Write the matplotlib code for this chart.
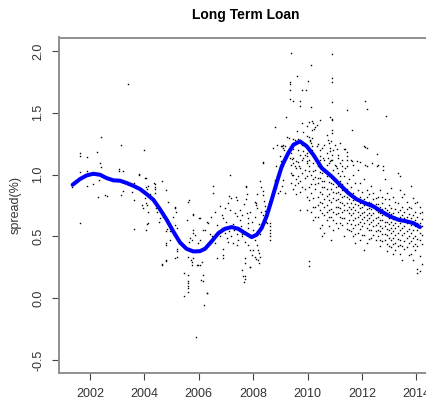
import matplotlib
matplotlib.use("Agg")
import matplotlib.pyplot as plt
import numpy as np

plt.rcParams['font.family'] = ['Liberation Sans', 'DejaVu Sans']

# ---------------- data ----------------
title = "Long Term Loan"
ylabel = "spread(%)"
xticks = [2002, 2004, 2006, 2008, 2010, 2012, 2014]
yticks = [-0.5, 0.0, 0.5, 1.0, 1.5, 2.0]
yticklabels = ["-0.5", "0.0", "0.5", "1.0", "1.5", "2.0"]

# smoothed curve (blue)
curve_t = [2001.36, 2001.63, 2001.88, 2002.12, 2002.37, 2002.61, 2002.86, 2003.10, 2003.35, 2003.59,
           2003.84, 2004.08, 2004.33, 2004.57, 2004.82, 2005.06, 2005.31, 2005.55, 2005.80, 2006.04,
           2006.23, 2006.47, 2006.72, 2006.96, 2007.21, 2007.45, 2007.70, 2007.94, 2008.13, 2008.31,
           2008.49, 2008.68, 2008.86, 2009.05, 2009.29, 2009.48, 2009.72, 2009.97, 2010.21, 2010.52,
           2010.88, 2011.19, 2011.50, 2011.80, 2012.11, 2012.42, 2012.72, 2013.03, 2013.34, 2013.64,
           2013.89, 2014.13]
curve_v = [0.917, 0.963, 0.993, 1.006, 0.998, 0.971, 0.953, 0.950, 0.931, 0.909,
           0.882, 0.842, 0.796, 0.720, 0.634, 0.540, 0.450, 0.399, 0.378, 0.380,
           0.400, 0.459, 0.526, 0.561, 0.575, 0.561, 0.526, 0.494, 0.513, 0.567,
           0.661, 0.796, 0.931, 1.066, 1.174, 1.241, 1.268, 1.228, 1.160, 1.052,
           0.985, 0.917, 0.850, 0.800, 0.769, 0.742, 0.701, 0.661, 0.634, 0.621,
           0.607, 0.575]

# early observations 2001-2006
early_t = [2001.63, 2001.63, 2001.88, 2002.25, 2002.39, 2002.37, 2002.39, 2001.63, 2001.88, 2001.33,
           2001.88, 2002.12, 2002.33, 2002.31, 2002.55, 2002.61, 2001.63, 2003.08, 2003.08, 2003.22,
           2003.13, 2003.39, 2003.80, 2003.13, 2003.22, 2003.62, 2003.62, 2003.62, 2004.05, 2004.06,
           2004.10, 2004.14, 2004.39, 2004.39, 2004.39, 2004.39, 2004.64, 2004.80, 2004.88, 2004.02,
           2004.06, 2004.10, 2004.14, 2003.90, 2003.96, 2004.10, 2004.14, 2004.06, 2004.43, 2004.45,
           2004.57, 2004.55, 2005.13, 2005.16, 2005.06, 2005.19, 2005.13, 2004.82, 2004.80, 2004.93,
           2004.80, 2004.80, 2004.94, 2005.18, 2005.20, 2005.13, 2005.19, 2004.80, 2004.63, 2005.55,
           2005.61, 2005.80, 2005.78, 2005.80, 2005.86, 2005.68, 2005.74, 2005.65, 2006.04, 2005.98,
           2005.62, 2005.70, 2005.76, 2005.94, 2005.46, 2005.61, 2005.61, 2005.61, 2005.61, 2005.61,
           2005.61, 2005.46, 2006.19, 2006.23, 2005.90, 2006.14, 2006.29, 2006.04, 2006.10, 2005.74,
           2005.80, 2004.66, 2004.78, 2004.00, 2004.03, 2004.35, 2005.12, 2005.64, 2005.77, 2006.00,
           2003.81, 2004.20, 2004.25, 2004.47, 2004.70, 2003.55]
early_v = [1.17, 1.15, 1.14, 1.18, 1.30, 1.09, 1.06, 1.02, 1.025, 0.90,
           0.905, 0.92, 0.958, 0.82, 0.836, 0.83, 0.607, 1.045, 1.03, 1.03,
           1.24, 1.73, 1.00, 0.836, 0.87, 0.93, 0.796, 0.561, 0.97, 0.90,
           0.88, 0.91, 0.92, 0.90, 0.885, 0.85, 0.944, 0.877, 0.78, 0.81,
           0.77, 0.75, 0.70, 0.755, 0.73, 0.60, 0.607, 0.553, 0.73, 0.70,
           0.648, 0.62, 0.74, 0.70, 0.66, 0.567, 0.594, 0.56, 0.545, 0.54,
           0.445, 0.43, 0.47, 0.397, 0.383, 0.324, 0.332, 0.31, 0.27, 0.634,
           0.78, 0.674, 0.553, 0.526, 0.512, 0.486, 0.472, 0.458, 0.472, 0.445,
           0.337, 0.31, 0.27, 0.27, 0.20, 0.19, 0.14, 0.12, 0.10, 0.08,
           0.05, 0.02, -0.054, 0.553, -0.31, 0.14, 0.04, 0.27, 0.296, 0.296,
           0.324, 0.275, 0.30, 1.20, 0.97, 0.93, 0.73, 0.79, 0.68, 0.652,
           1.006, 0.84, 0.80, 0.76, 0.66, 0.86]

# middle observations 2006-2009.5
mid_t = [2008.37, 2007.15, 2008.86, 2009.42, 2009.54, 2009.11, 2009.07, 2008.80, 2008.80, 2008.84,
         2008.92, 2008.99, 2009.17, 2006.53, 2006.53, 2007.12, 2007.18, 2007.37, 2007.39, 2007.74,
         2007.78, 2008.07, 2008.09, 2008.13, 2008.37, 2008.37, 2008.41, 2008.43, 2008.43, 2008.50,
         2008.52, 2008.58, 2008.37, 2008.43, 2008.47, 2008.50, 2008.62, 2008.62, 2008.62, 2008.62,
         2008.62, 2008.62, 2006.78, 2006.84, 2006.90, 2007.08, 2007.15, 2007.33, 2007.39, 2007.51,
         2007.58, 2007.76, 2007.82, 2007.82, 2007.80, 2006.04, 2006.17, 2006.29, 2006.35, 2006.47,
         2006.53, 2006.60, 2006.66, 2006.72, 2006.78, 2006.96, 2007.03, 2007.08, 2007.27, 2007.39,
         2007.45, 2007.58, 2007.70, 2007.82, 2007.88, 2008.07, 2008.13, 2008.19, 2008.22, 2008.25,
         2008.19, 2008.00, 2007.94, 2006.88, 2006.88, 2006.66, 2005.96, 2007.70, 2007.70, 2007.88,
         2007.58, 2006.17, 2006.08, 2007.64, 2007.70, 2006.29, 2007.69, 2007.65, 2007.87, 2008.20,
         2006.89, 2008.06, 2008.09, 2006.60, 2006.95, 2007.00, 2007.25, 2007.30, 2007.50, 2007.55,
         2007.60, 2007.90, 2007.95, 2008.00, 2008.05, 2008.20, 2008.25, 2008.30, 2006.40, 2006.45,
         2006.85, 2007.10, 2007.20, 2007.40, 2007.65, 2007.75, 2008.15, 2008.25, 2008.30, 2007.75,
         2008.36, 2008.11, 2009.03, 2009.10, 2008.97, 2009.03, 2009.10, 2008.85, 2008.91, 2008.79,
         2008.85, 2008.73]
mid_v = [1.098, 0.998, 0.990, 0.998, 0.917, 0.958, 0.904, 0.944, 0.917, 0.891,
         0.850, 0.863, 0.850, 0.904, 0.850, 0.828, 0.810, 0.818, 0.796, 0.896,
         0.842, 0.777, 0.755, 0.729, 0.863, 0.836, 0.782, 0.742, 0.701, 0.715,
         0.701, 0.715, 0.674, 0.648, 0.620, 0.607, 0.607, 0.580, 0.553, 0.526,
         0.499, 0.472, 0.742, 0.674, 0.648, 0.769, 0.715, 0.688, 0.661, 0.715,
         0.674, 0.688, 0.648, 0.607, 0.567, 0.648, 0.553, 0.620, 0.607, 0.499,
         0.472, 0.445, 0.594, 0.539, 0.499, 0.526, 0.486, 0.458, 0.445, 0.432,
         0.472, 0.499, 0.458, 0.432, 0.391, 0.472, 0.432, 0.391, 0.364, 0.337,
         0.310, 0.391, 0.351, 0.397, 0.351, 0.324, 0.270, 0.324, 0.283, 0.256,
         0.229, 0.189, 0.148, 0.181, 0.181, 0.045, 0.154, 0.134, 0.256, 0.288,
         0.324, 0.337, 0.316, 0.700, 0.730, 0.620, 0.600, 0.550, 0.630, 0.580,
         0.520, 0.700, 0.620, 0.550, 0.660, 0.600, 0.520, 0.700, 0.520, 0.660,
         0.570, 0.540, 0.500, 0.520, 0.760, 0.800, 0.840, 0.950, 0.900, 0.904,
         1.093, 0.770, 1.228, 1.241, 1.147, 1.106, 1.066, 1.066, 1.012, 0.958,
         0.904, 0.850]

# high observations 2008.7-2013 (upper cloud and outliers)
high_t = [2009.38, 2010.89, 2010.11, 2009.60, 2009.35, 2009.35, 2010.03, 2010.89, 2010.89, 2009.78,
          2009.94, 2009.35, 2009.35, 2009.45, 2009.72, 2010.89, 2010.11, 2009.72, 2012.11, 2012.19,
          2011.46, 2012.88, 2009.21, 2008.80, 2010.82, 2010.89, 2010.89, 2009.78, 2009.97, 2010.06,
          2010.15, 2010.21, 2010.27, 2010.33, 2010.46, 2009.60, 2009.84, 2010.15, 2010.25, 2010.89,
          2010.89, 2011.62, 2009.23, 2009.33, 2009.47, 2009.54, 2009.66, 2009.97, 2010.06, 2010.09,
          2010.15, 2010.09, 2010.12, 2010.15, 2010.15, 2010.70, 2010.76, 2008.74, 2008.86, 2009.05,
          2009.08, 2009.13, 2009.17, 2009.84, 2009.90, 2009.97, 2010.33, 2010.46, 2010.52, 2010.80,
          2010.82, 2010.82, 2010.89, 2011.01, 2011.07, 2011.19, 2011.38, 2011.44, 2011.46, 2012.11,
          2012.19, 2012.54, 2009.23, 2009.35, 2009.42, 2010.46, 2010.55, 2010.60, 2010.76, 2010.82,
          2010.89, 2011.13, 2011.25, 2011.44, 2011.62, 2011.66, 2011.80, 2011.93, 2012.11, 2012.17,
          2012.36, 2012.54, 2012.78, 2009.84, 2009.97, 2010.06, 2009.47, 2009.54, 2009.69, 2011.01,
          2011.07, 2011.25, 2011.38, 2012.77, 2013.39]
high_v = [1.984, 1.978, 1.883, 1.800, 1.749, 1.735, 1.754, 1.781, 1.746, 1.687,
          1.687, 1.681, 1.614, 1.592, 1.592, 1.584, 1.543, 1.551, 1.592, 1.530,
          1.525, 1.470, 1.466, 1.385, 1.466, 1.449, 1.438, 1.417, 1.395, 1.422,
          1.430, 1.417, 1.385, 1.403, 1.438, 1.349, 1.341, 1.357, 1.368, 1.363,
          1.336, 1.357, 1.304, 1.296, 1.287, 1.282, 1.287, 1.308, 1.304, 1.282,
          1.296, 1.268, 1.255, 1.228, 1.201, 1.322, 1.282, 1.215, 1.241, 1.233,
          1.215, 1.201, 1.228, 1.187, 1.160, 1.174, 1.228, 1.201, 1.215, 1.255,
          1.215, 1.187, 1.160, 1.241, 1.206, 1.255, 1.206, 1.179, 1.152, 1.223,
          1.215, 1.168, 1.160, 1.134, 1.126, 1.147, 1.134, 1.120, 1.134, 1.106,
          1.120, 1.134, 1.120, 1.120, 1.106, 1.079, 1.106, 1.098, 1.079, 1.066,
          1.093, 1.071, 1.066, 1.134, 1.106, 1.071, 1.093, 1.066, 1.071, 1.079,
          1.053, 1.066, 1.053, 1.040, 0.985]

# dense cloud 2009.4-2014.2, grouped by observation date
cloud_dates = [2009.40, 2009.48, 2009.56, 2009.64, 2009.72, 2009.80, 2009.89, 2009.97, 2010.05,
               2010.13, 2010.21, 2010.29, 2010.38, 2010.46, 2010.54, 2010.62, 2010.70, 2010.78,
               2010.87, 2010.95, 2011.03, 2011.11, 2011.19, 2011.27, 2011.35, 2011.43, 2011.51,
               2011.60, 2011.68, 2011.76, 2011.85, 2011.93, 2012.01, 2012.09, 2012.17, 2012.25,
               2012.34, 2012.42, 2012.50, 2012.58, 2012.66, 2012.74, 2012.83, 2012.91, 2012.99,
               2013.07, 2013.15, 2013.23, 2013.31, 2013.39, 2013.47, 2013.56, 2013.64, 2013.72,
               2013.80, 2013.88, 2013.96, 2014.04, 2014.12, 2014.20]
cloud_spreads = [
    [1.17, 1.01, 0.93, 1.08], [1.13, 1.00, 0.88, 1.21], [1.11, 0.96, 0.84, 1.05],
    [1.20, 0.93, 1.10, 0.99], [1.05, 0.71, 1.16, 0.95, 0.86], [1.01, 1.24, 0.90, 1.12],
    [1.23, 1.04, 0.88, 0.97], [1.15, 0.985, 0.71, 1.09, 0.82], [1.03, 0.90, 0.30, 0.26, 1.12, 0.79],
    [1.17, 1.00, 0.85, 0.70, 0.92], [1.09, 0.96, 0.81, 0.63, 1.03, 0.74], [1.04, 0.92, 0.88, 0.74, 0.98, 0.66],
    [1.25, 1.07, 0.93, 0.82, 0.66, 0.97, 0.75], [1.12, 0.97, 0.86, 0.71, 0.57, 1.02, 0.78],
    [1.01, 0.90, 0.77, 0.59, 0.50, 0.95, 0.69, 0.84],
    [1.24, 1.04, 0.90, 0.80, 0.67, 0.53, 0.95, 0.74], [1.17, 0.985, 0.88, 0.755, 0.635, 1.08, 0.83, 0.70],
    [1.09, 0.94, 0.84, 0.715, 0.58, 1.01, 0.79, 0.66],
    [1.27, 1.12, 1.00, 0.88, 0.78, 0.66, 0.47, 0.93, 0.72], [1.20, 1.04, 0.92, 0.81, 0.70, 0.55, 0.86, 0.97, 0.63],
    [0.96, 0.85, 0.74, 0.61, 1.07, 0.90, 0.68, 0.79],
    [1.16, 1.01, 0.904, 0.80, 0.69, 0.57, 0.86, 0.74], [1.09, 0.945, 0.84, 0.73, 0.61, 0.99, 0.78, 0.66],
    [0.877, 0.77, 0.65, 1.03, 0.92, 0.70, 0.82, 0.59],
    [1.21, 0.985, 0.877, 0.755, 0.65, 0.50, 0.83, 0.71], [1.07, 0.93, 0.82, 0.715, 0.61, 0.88, 0.77, 0.56],
    [0.80, 0.69, 0.55, 0.96, 0.74, 0.86, 0.63],
    [1.12, 0.90, 0.77, 0.67, 0.54, 0.83, 0.72, 0.60], [1.00, 0.85, 0.74, 0.635, 0.50, 0.79, 0.69, 0.57],
    [0.81, 0.715, 0.59, 0.445, 0.93, 0.76, 0.65, 0.52],
    [1.04, 0.877, 0.755, 0.66, 0.53, 0.80, 0.70, 0.60], [0.93, 0.82, 0.73, 0.62, 0.47, 0.77, 0.67, 0.56],
    [0.78, 0.69, 0.58, 0.86, 0.74, 0.64, 0.51],
    [1.23, 0.96, 0.80, 0.70, 0.61, 0.51, 0.39, 0.75, 0.66], [0.877, 0.755, 0.67, 0.57, 0.445, 0.82, 0.72, 0.63],
    [0.84, 0.73, 0.65, 0.55, 0.78, 0.69, 0.60, 0.48],
    [0.904, 0.77, 0.67, 0.55, 0.72, 0.62, 0.49], [0.85, 0.74, 0.635, 0.51, 0.80, 0.69, 0.58],
    [0.81, 0.715, 0.59, 0.47, 0.76, 0.65, 0.54],
    [1.08, 0.82, 0.70, 0.61, 0.50, 0.76, 0.66, 0.55], [0.877, 0.74, 0.635, 0.54, 0.42, 0.69, 0.58, 0.47],
    [0.77, 0.67, 0.57, 0.46, 0.72, 0.63, 0.52, 0.82],
    [0.96, 0.80, 0.67, 0.58, 0.47, 0.73, 0.62, 0.52], [0.85, 0.715, 0.62, 0.51, 0.38, 0.68, 0.56, 0.44],
    [0.755, 0.65, 0.55, 0.42, 0.70, 0.60, 0.49, 0.80],
    [0.89, 0.73, 0.62, 0.53, 0.41, 0.68, 0.57, 0.47], [0.82, 0.69, 0.59, 0.49, 0.36, 0.64, 0.54, 0.44],
    [0.78, 0.66, 0.57, 0.45, 0.72, 0.61, 0.51, 0.39],
    [1.01, 0.77, 0.635, 0.53, 0.42, 0.70, 0.58, 0.48], [0.877, 0.715, 0.61, 0.47, 0.36, 0.66, 0.55, 0.43],
    [0.82, 0.67, 0.57, 0.42, 0.31, 0.63, 0.51, 0.74],
    [0.84, 0.70, 0.58, 0.46, 0.65, 0.53, 0.40], [0.78, 0.66, 0.54, 0.41, 0.61, 0.49, 0.72],
    [0.74, 0.62, 0.50, 0.35, 0.68, 0.56, 0.45],
    [0.904, 0.73, 0.59, 0.46, 0.36, 0.65, 0.53], [0.81, 0.67, 0.55, 0.42, 0.31, 0.62, 0.49],
    [0.77, 0.635, 0.50, 0.70, 0.58, 0.44, 0.39],
    [0.78, 0.66, 0.55, 0.42, 0.24, 0.20, 0.61, 0.48], [0.74, 0.61, 0.47, 0.34, 0.22, 0.69, 0.53],
    [0.70, 0.51, 0.28, 0.64, 0.44, 0.58],
]

# ---------------- assemble points ----------------
pts_t = list(early_t) + list(mid_t) + list(high_t)
pts_v = list(early_v) + list(mid_v) + list(high_v)
for d, vals in zip(cloud_dates, cloud_spreads):
    pts_t.extend([d] * len(vals))
    pts_v.extend(vals)

# ---------------- figure ----------------
W, H = 426, 403
fig = plt.figure(figsize=(W / 100, H / 100), dpi=100)
ax = fig.add_axes([59 / W, 1 - 373 / H, (433 - 59) / W, (373 - 37.5) / H])

ax.plot(pts_t, pts_v, linestyle='none', marker='s', markersize=1.0,
        markeredgewidth=0, color='black', zorder=2)
ax.plot(curve_t, curve_v, color='#0000ff', linewidth=2.9, solid_capstyle='round',
        solid_joinstyle='round', zorder=3)

ax.set_xlim(2000.86, 2014.61)
ax.set_ylim(-0.605, 2.108)

ax.set_xticks(xticks)
ax.set_xticklabels([str(x) for x in xticks])
ax.set_yticks(yticks)
ax.set_yticklabels(yticklabels, rotation=90, va='center')

for s in ax.spines.values():
    s.set_color('#8f8f8f')
    s.set_linewidth(1.4)

ax.tick_params(axis='both', direction='out', length=5, width=0.8, color='#444444',
               labelsize=9, labelcolor='#333333')
ax.tick_params(axis='x', pad=5.5)
ax.tick_params(axis='y', pad=5.5)

fig.text(16 / W, 1 - 205 / H, ylabel, rotation=90, ha='center', va='center',
         fontsize=9, color='#333333')
fig.text(246 / W, 1 - 15 / H, title, ha='center', va='center',
         fontsize=10, fontweight='bold', color='black')

fig.savefig('out.png', dpi=100)
